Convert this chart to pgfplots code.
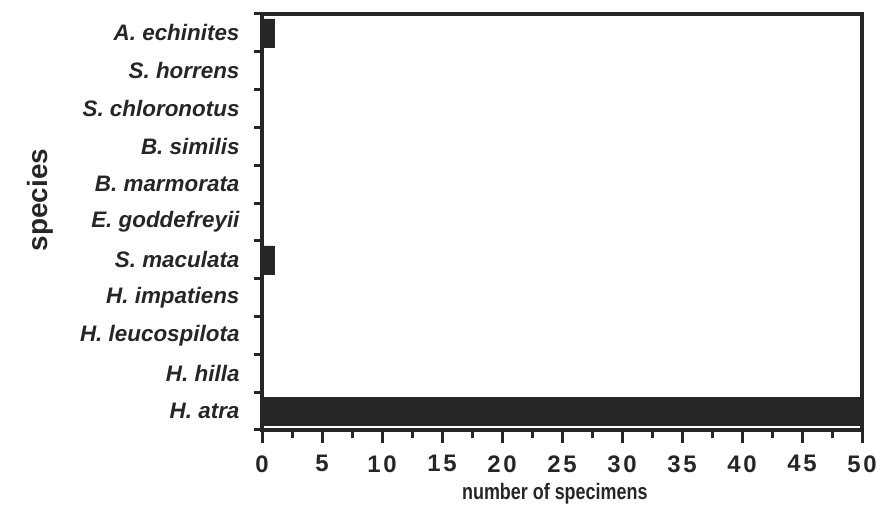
\documentclass[border=0pt]{standalone}
\usepackage{fontspec}
\setmainfont{Liberation Sans}
\newfontfamily\narrowfont[FakeStretch=0.8]{Liberation Sans}
\newfontfamily\spacedfont[LetterSpace=12]{Liberation Sans}
\usepackage{pgfplots}
\pgfplotsset{compat=1.18}
\definecolor{ink}{HTML}{262626}
\begin{document}
\begin{tikzpicture}[x=1bp,y=1bp]
\useasboundingbox (0,0) rectangle (880,512);
\begin{axis}[
  at={(262bp,82bp)}, anchor=south west,
  scale only axis, width=600bp, height=416bp,
  xbar, bar width=28bp,
  xmin=0, xmax=50, ymin=-0.5, ymax=10.5,
  axis line style={ink, line width=4bp},
  xtick={0,5,...,50}, minor xtick={2.5,7.5,...,47.5},
  xtick pos=bottom, ytick pos=left,
  tick align=outside,
  major tick length=13bp, minor tick length=8bp,
  every tick/.style={ink, line width=3bp},
  ytick={0,...,10},
  yticklabels={H. atra,H. hilla,H. leucospilota,H. impatiens,S. maculata,E. goddefreyii,B. marmorata,B. similis,S. chloronotus,S. horrens,A. echinites},
  minor ytick={-0.5,0.5,...,10.5},
  y tick style={draw=none},
  minor y tick style={draw=ink, line width=3bp},
  yticklabel style={font=\fontsize{22.5}{22.5}\selectfont\bfseries\itshape, text=ink, xshift=-6bp},
  xticklabel style={font=\spacedfont\fontsize{24}{24}\selectfont\bfseries, text=ink, yshift=-9bp},
  /pgf/number format/assume math mode=true,
  xlabel={number of specimens},
  xlabel style={font=\narrowfont\fontsize{22.5}{22.5}\selectfont\bfseries, text=ink, at={(axis description cs:0.488,-0.152)}, anchor=center},
  ylabel={species},
  ylabel style={font=\fontsize{28}{28}\selectfont\bfseries, text=ink, at={(axis description cs:-0.37,0.553)}, anchor=center},
  clip=true,
]
\addplot[fill=ink, draw=ink] coordinates {
  (50,0) (0,1) (0,2) (0,3) (1,4) (0,5) (0,6) (0,7) (0,8) (0,9) (1,10)
};
\end{axis}
\end{tikzpicture}
\end{document}
